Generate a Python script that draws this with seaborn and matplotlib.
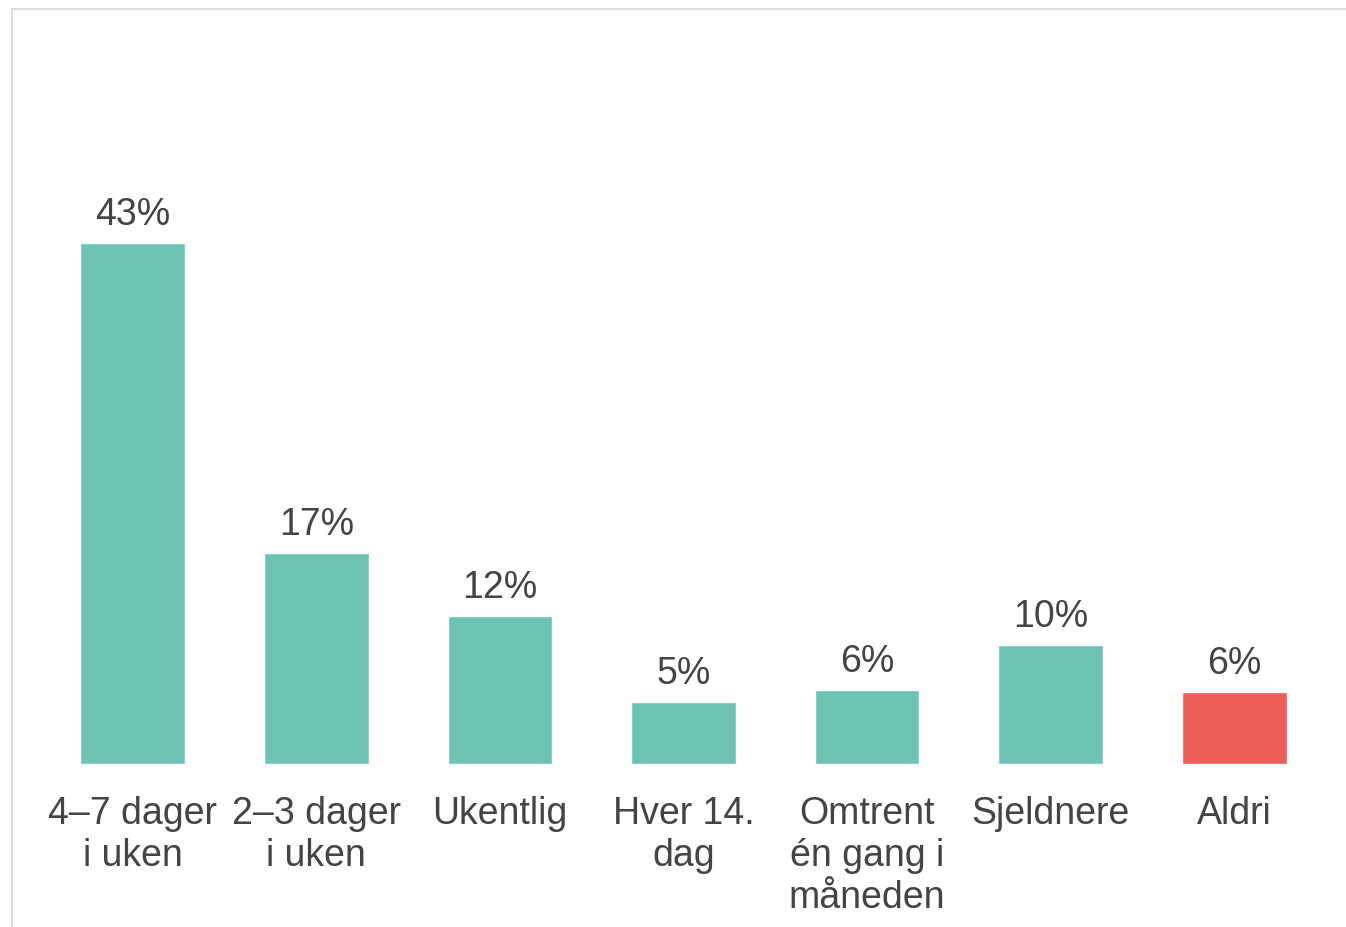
import matplotlib
matplotlib.use("Agg")
import matplotlib.pyplot as plt
import seaborn as sns
import pandas as pd
from matplotlib.lines import Line2D

categories = ["4–7 dager\ni uken", "2–3 dager\ni uken", "Ukentlig", "Hver 14.\ndag",
              "Omtrent\nén gang i\nmåneden", "Sjeldnere", "Aldri"]
values = [43.0, 17.4, 12.2, 5.1, 6.1, 9.8, 5.95]
labels = ["43%", "17%", "12%", "5%", "6%", "10%", "6%"]
colors = ["#6dc3b3"] * 6 + ["#ef5d58"]

sns.set_theme(style="white")
plt.rcParams['font.family'] = ['Liberation Sans', 'DejaVu Sans']

df = pd.DataFrame({"cat": categories, "val": values})

fig = plt.figure(figsize=(13.46, 9.28), dpi=100)
W, H = 1346, 928
left, right, bottom, top = 41, 1326, 765, 159
ax = fig.add_axes([left / W, 1 - bottom / H, (right - left) / W, (bottom - top) / H])
sns.barplot(data=df, x="cat", y="val", hue="cat", palette=colors, legend=False,
            width=0.57, ax=ax, saturation=1)
ax.set_xlim(-0.5, 6.5)
ax.set_ylim(0, 50)
for s in ax.spines.values():
    s.set_visible(False)
ax.set_yticks([])
ax.set_xlabel("")
ax.set_ylabel("")
ax.tick_params(axis="x", length=0, pad=22, labelsize=27, labelcolor="#444444")
for t in ax.get_xticklabels():
    t.set_linespacing(1.22)
for i, (v, l) in enumerate(zip(values, labels)):
    ax.annotate(l, (i, v), xytext=(0, 8), textcoords="offset points",
                ha="center", va="bottom", fontsize=27, color="#444444")

fig.add_artist(Line2D([12 / W, 12 / W], [0, 1 - 10 / H], color="#dddddd", lw=1.5,
                      transform=fig.transFigure))
fig.add_artist(Line2D([12 / W, 1], [1 - 10 / H, 1 - 10 / H], color="#dddddd", lw=1.5,
                      transform=fig.transFigure))
fig.savefig("out.png", dpi=100)
